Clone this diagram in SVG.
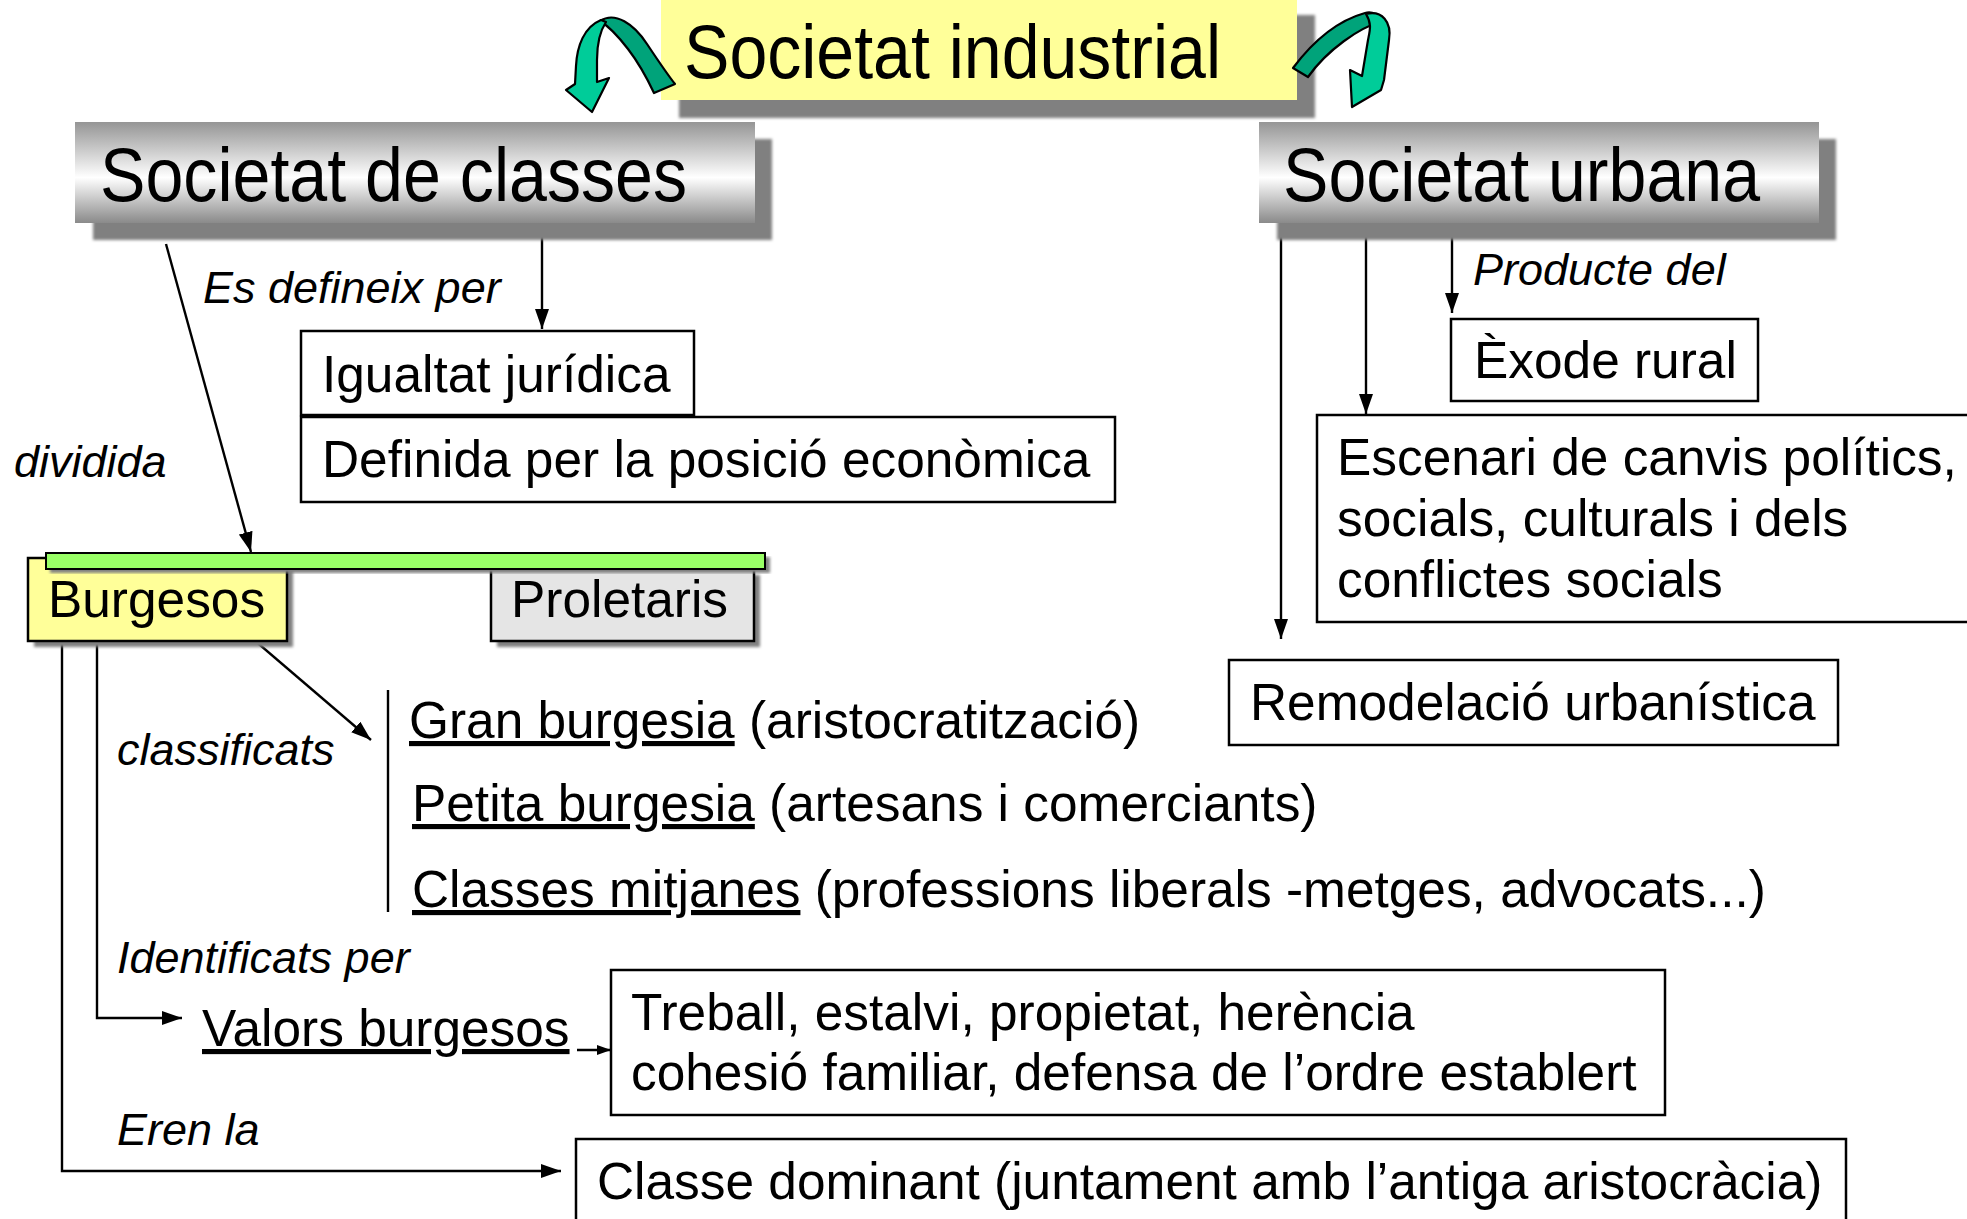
<svg xmlns="http://www.w3.org/2000/svg" width="1967" height="1219" viewBox="0 0 1967 1219">
<style>
.t{font-family:"Liberation Sans",Arial,sans-serif;fill:#000}
.big{font-size:76px}
.body{font-size:51.4px}
.lab{font-size:45px;font-style:italic}
.box{fill:#fff;stroke:#000;stroke-width:2.5}
.ln{fill:none;stroke:#000;stroke-width:2.4}
.sh{fill:#808080}
.ul{text-decoration:underline}
</style>
<defs>
<linearGradient id="metal" x1="0" y1="0" x2="0" y2="1">
<stop offset="0" stop-color="#959595"/>
<stop offset="0.55" stop-color="#ffffff"/>
<stop offset="1" stop-color="#8a8a8a"/>
</linearGradient>
<filter id="blur" x="-5%" y="-5%" width="110%" height="110%"><feGaussianBlur stdDeviation="1.5"/></filter>
<marker id="ah" viewBox="0 0 20 14" refX="20" refY="7" markerWidth="20" markerHeight="14" orient="auto" markerUnits="userSpaceOnUse"><path d="M0,0 L20,7 L0,14 Z" fill="#000"/></marker>
<marker id="ahs" viewBox="0 0 14 10" refX="14" refY="5" markerWidth="14" markerHeight="10" orient="auto" markerUnits="userSpaceOnUse"><path d="M0,0 L14,5 L0,10 Z" fill="#000"/></marker>
</defs>
<rect width="1967" height="1219" fill="#fff"/>

<g id="connectors">
<path class="ln" d="M542,227 L542,329" marker-end="url(#ah)"/>
<path class="ln" d="M166,244 L251,552" marker-end="url(#ah)"/>
<path class="ln" d="M253,639 L371,740" marker-end="url(#ah)"/>
<path class="ln" d="M388,690 L388,912"/>
<path class="ln" d="M97,642 L97,1018 L182,1018" marker-end="url(#ah)"/>
<path class="ln" d="M62,642 L62,1171 L561,1171" marker-end="url(#ah)"/>
<path class="ln" d="M577,1050 L611,1050" marker-end="url(#ahs)"/>
<path class="ln" d="M1281,227 L1281,639" marker-end="url(#ah)"/>
<path class="ln" d="M1366,227 L1366,414" marker-end="url(#ah)"/>
<path class="ln" d="M1452,227 L1452,313" marker-end="url(#ah)"/>
</g>

<g id="societat-industrial">
<rect class="sh" x="679" y="15" width="636" height="103" filter="url(#blur)"/>
<rect x="661" y="-3" width="636" height="103" fill="#ffff99"/>
<text class="t big" x="684" y="78" textLength="537" lengthAdjust="spacingAndGlyphs">Societat industrial</text>
</g>

<g id="arrow-left" stroke="#000" stroke-width="2.2" stroke-linejoin="round">
<path d="M600,21 C615,11 634,24 647,44 C659,62 667,74 675,84 L654,93 C646,76 638,62 628,49 C618,36 610,27 600,21 Z" fill="#00a37a"/>
<path d="M601,20 C584,27 577,46 576,66 L575,84 L566,90 L592,112 L609,78 L597,82 L597,60 C597,43 600,31 606,22 Z" fill="#00cc99"/>
</g>
<g id="arrow-right" stroke="#000" stroke-width="2.2" stroke-linejoin="round">
<path d="M1293,68 C1311,44 1336,21 1365,13 C1373,11 1379,15 1381,22 C1360,27 1327,50 1308,77 Z" fill="#00a37a"/>
<path d="M1366,14 C1382,10 1392,22 1389,40 L1384,80 L1381,90 L1352,107 L1350,70 L1362,76 L1368,40 C1370,30 1372,24 1366,14 Z" fill="#00cc99"/>
</g>

<g id="societat-classes">
<rect class="sh" x="93" y="139" width="679" height="101" filter="url(#blur)"/>
<rect x="75" y="122" width="680" height="101" fill="url(#metal)"/>
<text class="t big" x="100" y="201" textLength="587" lengthAdjust="spacingAndGlyphs">Societat de classes</text>
</g>

<g id="societat-urbana">
<rect class="sh" x="1277" y="139" width="559" height="101" filter="url(#blur)"/>
<rect x="1259" y="122" width="560" height="101" fill="url(#metal)"/>
<text class="t big" x="1283" y="201" textLength="477" lengthAdjust="spacingAndGlyphs">Societat urbana</text>
</g>

<g id="labels">
<text class="t lab" x="203" y="303">Es defineix per</text>
<text class="t lab" x="14" y="477">dividida</text>
<text class="t lab" x="117" y="765">classificats</text>
<text class="t lab" x="117" y="973">Identificats per</text>
<text class="t lab" x="117" y="1145">Eren la</text>
<text class="t lab" x="1473" y="285">Producte del</text>
</g>

<g id="igualtat">
<rect class="box" x="301" y="331" width="393" height="84"/>
<text class="t body" x="322" y="392">Igualtat jurídica</text>
</g>
<g id="definida">
<rect class="box" x="301" y="417" width="814" height="85"/>
<text class="t body" x="322" y="477">Definida per la posició econòmica</text>
</g>

<g id="burgesos">
<rect class="sh" x="34" y="564" width="259" height="83" filter="url(#blur)"/>
<rect x="28" y="558" width="259" height="83" fill="#ffff99" stroke="#000" stroke-width="2.5"/>
<text class="t body" x="48" y="617">Burgesos</text>
</g>
<g id="proletaris">
<rect class="sh" x="497" y="575" width="263" height="72" filter="url(#blur)"/>
<rect x="491" y="569" width="263" height="72" fill="#e5e5e5" stroke="#000" stroke-width="2.5"/>
<text class="t body" x="511" y="617">Proletaris</text>
</g>
<g id="green-bar">
<rect class="sh" x="50" y="557" width="720" height="16" filter="url(#blur)"/>
<rect x="46" y="553" width="719" height="16" fill="#99ff66" stroke="#000" stroke-width="2"/>
</g>

<g id="classificacio">
<text class="t body" x="409" y="738"><tspan class="ul">Gran burgesia</tspan> (aristocratització)</text>
<text class="t body" x="412" y="821"><tspan class="ul">Petita burgesia</tspan> (artesans i comerciants)</text>
<text class="t body" x="412" y="907"><tspan class="ul">Classes mitjanes</tspan> (professions liberals -metges, advocats...)</text>
</g>

<g id="valors">
<text class="t body" x="202" y="1046"><tspan class="ul">Valors burgesos</tspan></text>
</g>
<g id="treball">
<rect class="box" x="611" y="970" width="1054" height="145"/>
<text class="t body" x="631" y="1030">Treball, estalvi, propietat, herència</text>
<text class="t body" x="631" y="1090">cohesió familiar, defensa de l’ordre establert</text>
</g>
<g id="classe-dominant">
<rect class="box" x="576" y="1139" width="1270" height="90"/>
<text class="t body" x="597" y="1199">Classe dominant (juntament amb l’antiga aristocràcia)</text>
</g>

<g id="exode">
<rect class="box" x="1451" y="319" width="307" height="82"/>
<text class="t body" x="1474" y="378">Èxode rural</text>
</g>
<g id="escenari">
<rect class="box" x="1317" y="415" width="660" height="207"/>
<text class="t body" x="1337" y="475">Escenari de canvis polítics,</text>
<text class="t body" x="1337" y="536">socials, culturals i dels</text>
<text class="t body" x="1337" y="597">conflictes socials</text>
</g>
<g id="remodelacio">
<rect class="box" x="1229" y="660" width="609" height="85"/>
<text class="t body" x="1250" y="720">Remodelació urbanística</text>
</g>
</svg>
